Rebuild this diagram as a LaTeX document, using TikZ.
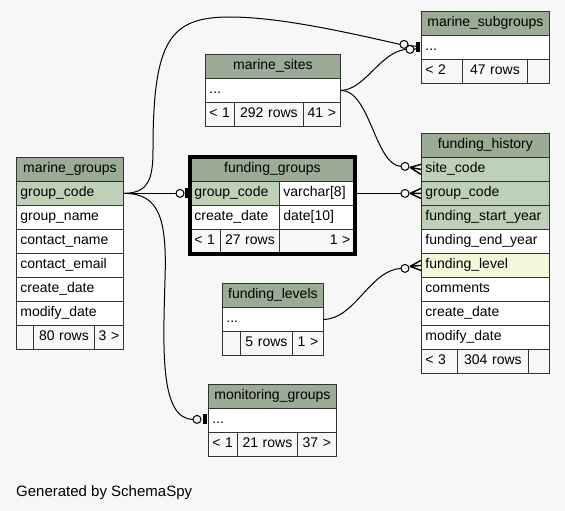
\documentclass[tikz,border=0pt]{standalone}
\usepackage{fontspec}
\setmainfont{Liberation Sans}
\usetikzlibrary{calc}
\definecolor{bgc}{HTML}{F7F7F7}
\definecolor{headc}{HTML}{9BAB96}
\definecolor{keyc}{HTML}{BED1B8}
\definecolor{idxc}{HTML}{F4F7DA}
\definecolor{linec}{HTML}{333333}
\newcommand\tabfont{\fontsize{14}{16}\selectfont}
\begin{document}
\begin{tikzpicture}[x=1pt,y=-1pt,
  cell/.style={draw=linec, line width=0.8pt, anchor=north west, minimum height=24pt,
    inner xsep=4pt, inner ysep=0pt, text height=10pt, text depth=3pt, font=\tabfont, align=left},
  head/.style={cell, fill=headc, align=center},
  key/.style={cell, fill=keyc},
  idx/.style={cell, fill=idxc},
  plain/.style={cell, fill=white},
  footl/.style={cell, fill=bgc, align=left},
  footc/.style={cell, fill=bgc, align=center},
  footr/.style={cell, fill=bgc, align=right},
  edge/.style={draw=black, line width=1pt},
  crow/.style={draw=black, line width=1.4pt},
  ring/.style={draw=black, line width=1pt, fill=bgc},
  barfill/.style={fill=black}]
\fill[bgc] (0,0) rectangle (565,511);
\useasboundingbox (0,0) rectangle (565,511);

% marine_groups
\node[head, text width=99pt] (mg-h) at (16,157) {marine\_groups};
\node[key, text width=99pt] (mg-gc) at (16,181) {group\_code};
\node[plain, text width=99pt] (mg-gn) at (16,205) {group\_name};
\node[plain, text width=99pt] (mg-cn) at (16,229) {contact\_name};
\node[plain, text width=99pt] (mg-ce) at (16,253) {contact\_email};
\node[plain, text width=99pt] (mg-cd) at (16,277) {create\_date};
\node[plain, text width=99pt] (mg-md) at (16,301) {modify\_date};
\node[footl, text width=9pt] (mg-f1) at (16,325) {};
\node[footc, text width=53pt] (mg-f2) at (33,325) {80 rows};
\node[footc, text width=21pt] (mg-f3) at (94,325) {3 >};

% funding_groups
\node[head, text width=156pt] (fg-h) at (190,157) {funding\_groups};
\node[key, text width=81pt] (fg-gc) at (190,181) {group\_code};
\node[plain, text width=67pt] (fg-gt) at (279,181) {varchar[8]};
\node[plain, text width=81pt] (fg-cd) at (190,205) {create\_date};
\node[plain, text width=67pt] (fg-ct) at (279,205) {date[10]};
\node[footl, text width=22pt] (fg-f1) at (190,229) {< 1};
\node[footc, text width=51pt] (fg-f2) at (220,229) {27 rows};
\node[footr, text width=67pt] (fg-f3) at (279,229) {1 >};
\draw[line width=4pt] (fg-h.north west) rectangle (fg-f3.south east);

% marine_subgroups
\node[head, text width=120pt] (msg-h) at (421,11) {marine\_subgroups};
\node[plain, text width=120pt] (msg-r) at (421,35) {...};
\node[footl, text width=33pt] (msg-f1) at (421,59) {< 2};
\node[footc, text width=57pt] (msg-f2) at (462,59) {47 rows};
\node[footc, text width=14pt] (msg-f3) at (527,59) {};

% marine_sites
\node[head, text width=127pt] (ms-h) at (205,54) {marine\_sites};
\node[plain, text width=127pt] (ms-r) at (205,78) {...};
\node[footl, text width=21pt] (ms-f1) at (205,102) {< 1};
\node[footc, text width=61pt] (ms-f2) at (234,102) {292 rows};
\node[footc, text width=29pt] (ms-f3) at (303,102) {41 >};

% funding_history
\node[head, text width=120pt] (fh-h) at (421,133) {funding\_history};
\node[key, text width=120pt] (fh-sc) at (421,157) {site\_code};
\node[key, text width=120pt] (fh-gc) at (421,181) {group\_code};
\node[key, text width=120pt] (fh-sy) at (421,205) {funding\_start\_year};
\node[plain, text width=120pt] (fh-ey) at (421,229) {funding\_end\_year};
\node[idx, text width=120pt] (fh-fl) at (421,253) {funding\_level};
\node[plain, text width=120pt] (fh-cm) at (421,277) {comments};
\node[plain, text width=120pt] (fh-cd) at (421,301) {create\_date};
\node[plain, text width=120pt] (fh-md) at (421,325) {modify\_date};
\node[footl, text width=28pt] (fh-f1) at (421,349) {< 3};
\node[footc, text width=63pt] (fh-f2) at (457,349) {304 rows};
\node[footc, text width=13pt] (fh-f3) at (528,349) {};

% funding_levels
\node[head, text width=93pt] (fl-h) at (222,283) {funding\_levels};
\node[plain, text width=93pt] (fl-r) at (222,307) {...};
\node[footl, text width=10pt] (fl-f1) at (222,331) {};
\node[footc, text width=44pt] (fl-f2) at (240,331) {5 rows};
\node[footc, text width=23pt] (fl-f3) at (292,331) {1 >};

% monitoring_groups
\node[head, text width=120pt] (mog-h) at (208,384) {monitoring\_groups};
\node[plain, text width=120pt] (mog-r) at (208,408) {...};
\node[footl, text width=21pt] (mog-f1) at (208,432) {< 1};
\node[footc, text width=52pt] (mog-f2) at (237,432) {21 rows};
\node[footc, text width=31pt] (mog-f3) at (297,432) {37 >};

\node[anchor=base west, font=\fontsize{15}{18}\selectfont, inner sep=0pt] (gen) at (16,496) {Generated by SchemaSpy};

% connectors
% marine_groups -> funding_groups (zero or one)
\draw[edge] (mg-gc.east) -- ($(fg-gc.west)+(-14,0)$);
\draw[ring] ($(fg-gc.west)+(-10,0)$) circle[radius=4pt];
\fill[barfill] ($(fg-gc.west)+(-5,-5)$) rectangle ($(fg-gc.west)+(-1,5)$);

% marine_groups -> marine_subgroups
\draw[edge] (mg-gc.east) .. controls (148,193) and (153,180) .. (153,150)
  .. controls (153,40) and (170,17) .. (230,17)
  .. controls (280,17) and (350,33) .. ($(msg-r.west)+(-21,-3)$);
% marine_sites -> marine_subgroups
\draw[edge] (ms-r.east) .. controls (365,90) and (380,52) .. ($(msg-r.west)+(-15,2)$);
\draw[edge] ($(msg-r.west)+(-13,-2)$) -- ($(msg-r.west)+(-4,-1)$);
\draw[edge] ($(msg-r.west)+(-7,2)$) -- ($(msg-r.west)+(-4,1)$);
\draw[ring] ($(msg-r.west)+(-17,-3)$) circle[radius=4pt];
\draw[ring] ($(msg-r.west)+(-11,2)$) circle[radius=4pt];
\fill[barfill] ($(msg-r.west)+(-5,-5)$) rectangle ($(msg-r.west)+(-1,5)$);

% marine_groups -> monitoring_groups
\draw[edge] (mg-gc.east) .. controls (160,193) and (167,220) .. (165,280)
  .. controls (163,350) and (160,419) .. ($(mog-r.west)+(-15,-1)$);
\draw[ring] ($(mog-r.west)+(-11,-1)$) circle[radius=4pt];
\fill[barfill] ($(mog-r.west)+(-5,-6)$) rectangle ($(mog-r.west)+(-1,4)$);

% marine_sites -> funding_history.site_code
\draw[edge] (ms-r.east) .. controls (370,90) and (375,165) .. ($(fh-sc.west)+(-20,-3)$);
\draw[crow] ($(fh-sc.west)+(-11,-2)$) -- ($(fh-sc.west)+(0,-5)$)
  ($(fh-sc.west)+(-11,-2)$) -- (fh-sc.west)
  ($(fh-sc.west)+(-11,-2)$) -- ($(fh-sc.west)+(0,5)$);
\draw[ring] ($(fh-sc.west)+(-16,-3)$) circle[radius=4pt];

% funding_groups -> funding_history.group_code
\draw[edge] (fg-gt.east) -- ($(fh-gc.west)+(-20,0)$);
\draw[crow] ($(fh-gc.west)+(-11,0)$) -- ($(fh-gc.west)+(0,-5)$)
  ($(fh-gc.west)+(-11,0)$) -- (fh-gc.west)
  ($(fh-gc.west)+(-11,0)$) -- ($(fh-gc.west)+(0,5)$);
\draw[ring] ($(fh-gc.west)+(-16,0)$) circle[radius=4pt];

% funding_levels -> funding_history.funding_level
\draw[edge] (fl-r.east) .. controls (355,319) and (370,270) .. ($(fh-fl.west)+(-20,3)$);
\draw[crow] ($(fh-fl.west)+(-11,1)$) -- ($(fh-fl.west)+(0,-5)$)
  ($(fh-fl.west)+(-11,1)$) -- (fh-fl.west)
  ($(fh-fl.west)+(-11,1)$) -- ($(fh-fl.west)+(0,5)$);
\draw[ring] ($(fh-fl.west)+(-16,3)$) circle[radius=4pt];
\end{tikzpicture}
\end{document}
